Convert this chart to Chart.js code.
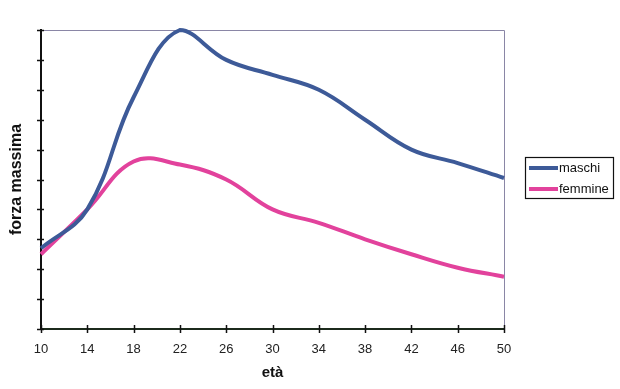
<!DOCTYPE html>
<html>
<head>
<meta charset="utf-8">
<script src="https://cdn.jsdelivr.net/npm/chart.js@4.4.1/dist/chart.umd.min.js"></script>
<style>
  html, body { margin: 0; padding: 0; background: #fff; }
  #wrap { width: 620px; height: 389px; }
</style>
</head>
<body>
<div id="wrap"><canvas id="chart"></canvas></div>
<script>
// età (anni) on the x axis, forza massima (no scale labels) on the y axis
const ages = ['10', '14', '18', '22', '26', '30', '34', '38', '42', '46', '50'];
const maschi = [2.7, 4.0, 7.75, 10.0, 9.0, 8.5, 8.0, 7.0, 6.0, 5.55, 5.05];
const femmine = [2.5, 4.0, 5.6, 5.5, 5.0, 4.0, 3.55, 3.0, 2.5, 2.05, 1.75];
const seriesNames = ['maschi', 'femmine'];
const seriesColors = ['#3d5a98', '#e2429c'];

// frame, crossing tick marks and boxed legend like the old Excel chart
const excelFrame = {
    id: 'excelFrame',
    beforeDatasetsDraw(chart) {
        const { ctx, chartArea: a, scales } = chart;
        ctx.save();
        ctx.strokeStyle = '#8a86a6';
        ctx.lineWidth = 1;
        ctx.beginPath();
        ctx.moveTo(a.left, a.top + 0.5);
        ctx.lineTo(a.right + 0.5, a.top + 0.5);
        ctx.lineTo(a.right + 0.5, a.bottom);
        ctx.stroke();

        ctx.strokeStyle = '#111';
        ctx.lineWidth = 1.5;
        ctx.beginPath();
        scales.y.ticks.forEach((t, i) => {
            const y = Math.round(scales.y.getPixelForTick(i)) + 0.5;
            ctx.moveTo(a.left - 4, y);
            ctx.lineTo(a.left + 3, y);
        });
        scales.x.ticks.forEach((t, i) => {
            const x = Math.round(scales.x.getPixelForTick(i)) + 0.5;
            ctx.moveTo(x, a.bottom - 4);
            ctx.lineTo(x, a.bottom + 4);
        });
        ctx.stroke();
        ctx.restore();
    },
    afterDraw(chart) {
        const { ctx, chartArea: a } = chart;
        const left = a.right + 21, top = 157, w = 88, h = 41;
        ctx.save();
        ctx.strokeStyle = '#111';
        ctx.lineWidth = 1.2;
        ctx.strokeRect(left + 0.5, top + 0.5, w, h);
        ctx.font = '13px Arial, "Liberation Sans", sans-serif';
        ctx.textBaseline = 'middle';
        ctx.fillStyle = '#111';
        chart.data.datasets.forEach((ds, i) => {
            const y = top + 11 + i * 21;
            ctx.strokeStyle = ds.borderColor;
            ctx.lineWidth = 4;
            ctx.beginPath();
            ctx.moveTo(left + 4, y);
            ctx.lineTo(left + 33, y);
            ctx.stroke();
            ctx.fillText(ds.label, left + 34, y);
        });
        ctx.restore();
    }
};

new Chart(document.getElementById('chart'), {
    type: 'line',
    data: {
        labels: ages,
        datasets: [maschi, femmine].map((values, i) => ({
            label: seriesNames[i],
            data: values,
            borderColor: seriesColors[i],
            backgroundColor: seriesColors[i],
            borderWidth: 4,
            pointRadius: 0,
            tension: 0.4,
            fill: false,
            clip: 6
        }))
    },
    options: {
        responsive: true,
        maintainAspectRatio: false,
        animation: false,
        layout: { padding: { top: 30, right: 116, left: 0, bottom: 0 } },
        plugins: {
            legend: { display: false },
            tooltip: { enabled: false }
        },
        scales: {
            x: {
                afterFit(scale) { scale.height = 60; },
                grid: { display: false, drawTicks: false },
                border: { display: true, color: '#1c2a1c', width: 2 },
                ticks: {
                    padding: 13,
                    color: '#222',
                    font: { family: 'Arial, "Liberation Sans", sans-serif', size: 13 },
                    maxRotation: 0,
                    autoSkip: false
                },
                title: {
                    display: true,
                    text: 'età',
                    color: '#111',
                    font: { family: 'Arial, "Liberation Sans", sans-serif', size: 15, weight: 'bold' },
                    padding: { top: 0, bottom: 7 }
                }
            },
            y: {
                min: 0,
                max: 10,
                afterFit(scale) { scale.width = 41; },
                grid: { display: false, drawTicks: false },
                border: { display: true, color: '#111', width: 2 },
                ticks: { display: false, stepSize: 1 },
                title: {
                    display: true,
                    text: 'forza massima',
                    color: '#111',
                    font: { family: 'Arial, "Liberation Sans", sans-serif', size: 16, weight: 'bold' },
                    padding: { top: 7, bottom: 0 }
                }
            }
        }
    },
    plugins: [excelFrame]
});
</script>
</body>
</html>
